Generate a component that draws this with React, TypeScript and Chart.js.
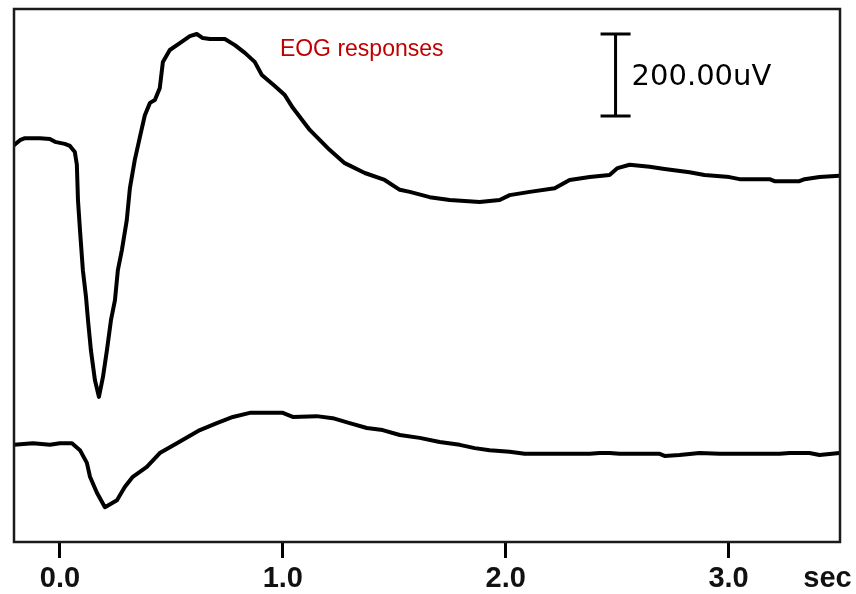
import React, { useEffect, useRef } from "react";
import { Chart, registerables } from "chart.js";

Chart.register(...registerables);

// Time axis (sec) and amplitude (uV) values
const upperTime = [-0.206, -0.179, -0.157, -0.09, -0.045, -0.022, 0.022, 0.045, 0.067, 0.076, 0.081, 0.09, 0.103, 0.117, 0.126, 0.139, 0.157, 0.175, 0.193, 0.211, 0.229, 0.247, 0.26, 0.278, 0.3, 0.314, 0.336, 0.359, 0.381, 0.404, 0.426, 0.448, 0.462, 0.493, 0.538, 0.583, 0.614, 0.641, 0.673, 0.74, 0.785, 0.83, 0.874, 0.906, 0.964, 1.009, 1.045, 1.121, 1.211, 1.278, 1.368, 1.457, 1.525, 1.57, 1.659, 1.749, 1.883, 1.973, 2.018, 2.108, 2.22, 2.287, 2.377, 2.466, 2.502, 2.556, 2.646, 2.713, 2.825, 2.892, 3.004, 3.049, 3.184, 3.206, 3.318, 3.341, 3.408, 3.498];
const upperUV = [968, 980, 985, 985, 983, 976, 971, 966, 951, 920, 834, 761, 663, 598, 541, 468, 395, 354, 402, 468, 541, 590, 663, 712, 785, 863, 932, 988, 1041, 1071, 1078, 1107, 1171, 1200, 1217, 1234, 1239, 1229, 1227, 1227, 1212, 1193, 1171, 1139, 1112, 1090, 1059, 1005, 956, 924, 900, 883, 859, 854, 841, 834, 829, 834, 846, 854, 863, 883, 890, 895, 912, 920, 915, 910, 902, 895, 890, 885, 885, 880, 880, 885, 890, 893];

const lowerTime = [-0.206, -0.121, -0.045, 0.0, 0.054, 0.09, 0.121, 0.135, 0.166, 0.202, 0.256, 0.291, 0.327, 0.39, 0.448, 0.525, 0.628, 0.704, 0.776, 0.852, 1.0, 1.045, 1.152, 1.224, 1.3, 1.377, 1.448, 1.525, 1.614, 1.704, 1.794, 1.861, 1.928, 2.018, 2.085, 2.197, 2.377, 2.422, 2.466, 2.511, 2.691, 2.713, 2.78, 2.87, 2.96, 3.229, 3.274, 3.363, 3.408, 3.498];
const lowerUV = [237, 241, 237, 241, 241, 224, 193, 159, 120, 85, 102, 134, 159, 183, 217, 241, 273, 290, 305, 315, 315, 305, 307, 302, 290, 278, 273, 261, 254, 244, 237, 229, 224, 220, 215, 215, 215, 217, 217, 215, 215, 210, 212, 217, 215, 215, 217, 217, 212, 217];

const tickValues = [0, 1, 2, 3];
const xMin = -0.206;
const xMax = 3.5;
const yMin = 0;
const yMax = 1300;

const titleText = "EOG responses";
const titleTime = 1.354;
const titleUV = 1200;

const scaleBarLabel = "200.00uV";
const scaleBarTime = 2.493;
const scaleBarTop = 1239;
const scaleBarSpan = 200;

const unitLabel = "sec";
const unitTime = 3.444;

const tickFont = { family: "'Liberation Sans', Arial, sans-serif", size: 29, weight: "bold" as const, lineHeight: 1.0 };

const annotations = {
  id: "annotations",
  afterDraw(chart: any) {
    const { ctx, chartArea, scales } = chart;
    const x = scales.x;
    const y = scales.y;
    ctx.save();
    // frame
    ctx.strokeStyle = "#1a1a1a";
    ctx.lineWidth = 2.5;
    ctx.strokeRect(chartArea.left, chartArea.top, chartArea.right - chartArea.left, chartArea.bottom - chartArea.top);

    // scale bar
    const bx = x.getPixelForValue(scaleBarTime);
    const by1 = y.getPixelForValue(scaleBarTop);
    const by2 = y.getPixelForValue(scaleBarTop - scaleBarSpan);
    ctx.strokeStyle = "#000";
    ctx.lineWidth = 3;
    ctx.beginPath();
    ctx.moveTo(bx, by1);
    ctx.lineTo(bx, by2);
    ctx.moveTo(bx - 15, by1);
    ctx.lineTo(bx + 15, by1);
    ctx.moveTo(bx - 15, by2);
    ctx.lineTo(bx + 15, by2);
    ctx.stroke();
    ctx.fillStyle = "#000";
    ctx.font = "29px 'DejaVu Sans', sans-serif";
    ctx.textBaseline = "middle";
    ctx.textAlign = "left";
    ctx.fillText(scaleBarLabel, bx + 16, (by1 + by2) / 2 + 2);

    // title
    ctx.fillStyle = "#c00000";
    ctx.font = "23px 'Liberation Sans', Arial, sans-serif";
    ctx.textAlign = "center";
    ctx.fillText(titleText, x.getPixelForValue(titleTime), y.getPixelForValue(titleUV));

    // unit label
    ctx.fillStyle = "#111";
    ctx.font = `bold ${tickFont.size}px ${tickFont.family}`;
    ctx.textBaseline = "middle";
    ctx.fillText(unitLabel, x.getPixelForValue(unitTime), chartArea.bottom + 37);
    ctx.restore();
  },
};

export default function App() {
  const canvasRef = useRef<HTMLCanvasElement | null>(null);

  useEffect(() => {
    if (!canvasRef.current) return;
    const chart = new Chart(canvasRef.current, {
      type: "line",
      data: {
        datasets: [
          {
            label: "upper",
            data: upperTime.map((t, i) => ({ x: t, y: upperUV[i] })),
            borderColor: "#000",
            borderWidth: 4,
            pointRadius: 0,
            tension: 0,
            borderJoinStyle: "round",
            borderCapStyle: "round",
          },
          {
            label: "lower",
            data: lowerTime.map((t, i) => ({ x: t, y: lowerUV[i] })),
            borderColor: "#000",
            borderWidth: 4,
            pointRadius: 0,
            tension: 0,
            borderJoinStyle: "round",
            borderCapStyle: "round",
          },
        ],
      },
      options: {
        animation: false,
        responsive: true,
        maintainAspectRatio: false,
        layout: { padding: { left: 14, right: 16, top: 9, bottom: 0 } },
        plugins: {
          legend: { display: false },
          tooltip: { enabled: false },
          title: { display: false },
        },
        scales: {
          x: {
            type: "linear",
            min: xMin,
            max: xMax,
            afterBuildTicks: (scale: any) => {
              scale.ticks = tickValues.map((v) => ({ value: v }));
            },
            ticks: {
              callback: (v: any) => Number(v).toFixed(1),
              color: "#111",
              font: tickFont,
              padding: 6,
              maxRotation: 0,
              autoSkip: false,
            },
            grid: {
              display: true,
              drawOnChartArea: false,
              drawTicks: true,
              tickLength: 16,
              tickWidth: 3,
              tickColor: "#000",
            },
            border: { display: false },
          },
          y: {
            type: "linear",
            min: yMin,
            max: yMax,
            display: false,
          },
        },
      },
      plugins: [annotations],
    });
    return () => chart.destroy();
  }, []);

  return (
    <div style={{ position: "absolute", left: 0, top: 0, width: 856, height: 594, overflow: "hidden", background: "#fff" }}>
      <div style={{ position: "relative", width: 856, height: 599 }}>
        <canvas ref={canvasRef} />
      </div>
    </div>
  );
}
